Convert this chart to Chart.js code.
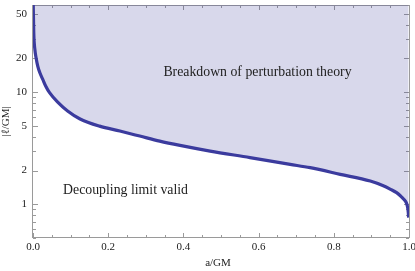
<!DOCTYPE html>
<html>
<head>
<meta charset="utf-8">
<script src="https://cdn.jsdelivr.net/npm/chart.js@4.4.1/dist/chart.umd.min.js"></script>
<style>
html,body{margin:0;padding:0;background:#fff;}
#wrap{width:415px;height:271px;position:relative;}
</style>
</head>
<body>
<div id="wrap"><canvas id="c" width="415" height="271"></canvas></div>
<script>
// a/GM values along the boundary curve
const spinValues = [0.0005, 0.002, 0.005, 0.0085, 0.0128, 0.018, 0.026, 0.034, 0.044, 0.065, 0.092, 0.124, 0.177, 0.231, 0.284, 0.337, 0.391, 0.471, 0.577, 0.684, 0.737, 0.817, 0.897, 0.93, 0.951, 0.967, 0.977, 0.986, 0.993, 0.996, 0.998, 0.999];
// |ell/GM| boundary values
const ellValues = [64, 34, 24, 20, 17, 15, 13, 11.3, 9.9, 8.2, 6.8, 5.8, 4.98, 4.5, 4.06, 3.66, 3.35, 2.98, 2.61, 2.27, 2.12, 1.85, 1.61, 1.47, 1.36, 1.27, 1.19, 1.11, 1.03, 0.95, 0.85, 0.76];
// axis ticks
const xMajorTicks = [0, 0.2, 0.4, 0.6, 0.8, 1.0];
const xMinorTicks = [0.05, 0.1, 0.15, 0.25, 0.3, 0.35, 0.45, 0.5, 0.55, 0.65, 0.7, 0.75, 0.85, 0.9, 0.95];
const yMajorTicks = [1, 2, 5, 10, 20, 50];
const yMinorTicks = [0.5, 0.6, 0.7, 0.8, 0.9, 3, 4, 6, 7, 8, 9, 30, 40, 60];
// annotation labels
const annotations = [
  {text: 'Breakdown of perturbation theory', a: 0.597, ell: 14.9, align: 'center'},
  {text: 'Decoupling limit valid', a: 0.08, ell: 1.33, align: 'left'}
];

const points = spinValues.map((a, i) => ({x: a, y: ellValues[i]}));
const serif = '"Liberation Serif", "Times New Roman", serif';

const framePlugin = {
  id: 'framePlugin',
  beforeDatasetsDraw(chart) {
    const ctx = chart.ctx;
    const ca = chart.chartArea;
    const xs = chart.scales.x, ys = chart.scales.y;
    ctx.save();
    ctx.strokeStyle = '#9a9a9a';
    ctx.lineWidth = 1;
    ctx.strokeRect(Math.round(ca.left) - 0.5, Math.round(ca.top) + 0.5, Math.round(ca.right - ca.left) + 1, Math.round(ca.bottom - ca.top) - 1);
    const tick = (x1, y1, x2, y2) => { ctx.beginPath(); ctx.moveTo(x1, y1); ctx.lineTo(x2, y2); ctx.stroke(); };
    const drawX = (vals, len) => vals.forEach(v => {
      const px = Math.round(xs.getPixelForValue(v)) + 0.5;
      tick(px, ca.bottom, px, ca.bottom - len);
      tick(px, ca.top, px, ca.top + len);
    });
    const drawY = (vals, len) => vals.forEach(v => {
      const py = Math.round(ys.getPixelForValue(v)) + 0.5;
      tick(ca.left, py, ca.left + len, py);
      tick(ca.right, py, ca.right - len, py);
    });
    drawX(xMajorTicks, 5); drawX(xMinorTicks, 3);
    drawY(yMajorTicks, 5); drawY(yMinorTicks, 3);
    ctx.restore();
  },
  afterDatasetsDraw(chart) {
    const ctx = chart.ctx;
    const ca = chart.chartArea;
    const xs = chart.scales.x, ys = chart.scales.y;
    ctx.save();
    ctx.fillStyle = '#222';
    ctx.font = '13.8px ' + serif;
    ctx.textBaseline = 'middle';
    annotations.forEach(an => {
      ctx.textAlign = an.align;
      ctx.fillText(an.text, xs.getPixelForValue(an.a), ys.getPixelForValue(an.ell));
    });
    ctx.font = '11px ' + serif;
    ctx.textAlign = 'center';
    ctx.fillText('a/GM', (ca.left + ca.right) / 2 - 3, 263);
    ctx.translate(6, (ca.top + ca.bottom) / 2);
    ctx.rotate(-Math.PI / 2);
    ctx.fillText('|\u2113/GM|', 0, 0);
    ctx.restore();
  }
};

new Chart(document.getElementById('c'), {
  type: 'line',
  data: {
    datasets: [{
      data: points,
      borderColor: '#3b3b9e',
      borderWidth: 3.2,
      borderJoinStyle: 'round',
      backgroundColor: 'rgba(60,60,155,0.2)',
      fill: 'end',
      pointRadius: 0,
      cubicInterpolationMode: 'monotone',
      clip: 0
    }]
  },
  options: {
    responsive: false,
    animation: false,
    devicePixelRatio: 1,
    layout: {padding: {top: 5, right: 6, left: 0, bottom: 0}},
    plugins: {legend: {display: false}, tooltip: {enabled: false}},
    scales: {
      x: {
        type: 'linear', min: 0, max: 1,
        grid: {display: false, drawTicks: false},
        border: {display: false},
        afterBuildTicks: s => { s.ticks = xMajorTicks.map(v => ({value: v})); },
        afterFit: s => { s.height = 33; s.paddingLeft = 0; s.paddingRight = 0; },
        ticks: {
          padding: 3,
          maxRotation: 0,
          color: '#222',
          font: {family: serif, size: 11},
          callback: v => Number(v).toFixed(1)
        }
      },
      y: {
        type: 'logarithmic', min: 0.5, max: 60,
        grid: {display: false, drawTicks: false},
        border: {display: false},
        afterBuildTicks: s => { s.ticks = yMajorTicks.map(v => ({value: v})); },
        afterFit: s => { s.width = 33; s.paddingTop = 0; s.paddingBottom = 0; },
        ticks: {
          padding: 6,
          color: '#222',
          font: {family: serif, size: 11},
          callback: v => String(v)
        }
      }
    }
  },
  plugins: [framePlugin]
});
</script>
</body>
</html>
